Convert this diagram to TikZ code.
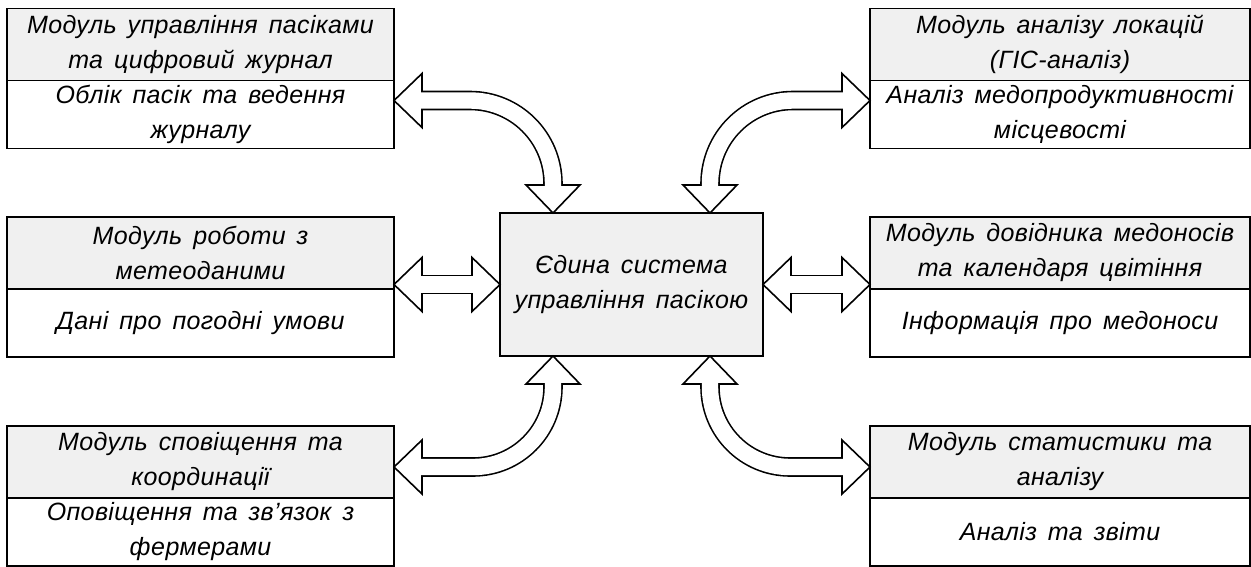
\documentclass[tikz,border=0pt]{standalone}
\usepackage{fontspec}
\setmainfont{Liberation Sans}[LetterSpace=1.5,WordSpace=1.5]
\usetikzlibrary{calc,positioning}
\definecolor{boxgray}{RGB}{240,240,240}

% hollow double-headed arrow: [shaft options]{tip A}{base A}{tip B}{base B}{path operation}
\newcommand{\hollowarrow}[6][]{%
    \draw[arrowhead] (#2) -- ($(#3)!27pt!90:(#2)$) -- ($(#3)!27pt!-90:(#2)$) -- cycle;
    \draw[arrowhead] (#4) -- ($(#5)!27pt!90:(#4)$) -- ($(#5)!27pt!-90:(#4)$) -- cycle;
    \draw[shaftout,#1] (#3) #6 (#5);
    \draw[shaftin,#1] (#3) #6 (#5);
}

\begin{document}
\begin{tikzpicture}[x=1pt,y=-1pt,line width=1.6pt,
    font=\fontsize{25}{35}\selectfont\itshape,
    modtop/.style={draw,fill=boxgray,minimum width=387pt,minimum height=72pt,
        inner sep=0pt,outer sep=0pt,align=center},
    modbot/.style={modtop,fill=white,minimum height=68pt},
    arrowhead/.style={draw,fill=white,line join=miter},
    shaftout/.style={line width=19.6pt},
    shaftin/.style={white,line width=16.4pt,shorten <=-2pt,shorten >=-2pt}]
    \useasboundingbox (0,0) rectangle (1251,566);

    %centre
    \node[modtop,minimum width=263pt,minimum height=143pt] (centre) at (631.5,284.5)
        {Єдина система\\управління пасікою};

    %left column
    \node[modtop] (left1) at (200.5,44.5) {Модуль управління пасіками\\та цифровий журнал};
    \node[modbot,below=0pt of left1] (left1info) {Облік пасік та ведення\\журналу};
    \node[modtop] (left2) at (200.5,253) {Модуль роботи з\\метеоданими};
    \node[modbot,below=0pt of left2] (left2info) {Дані про погодні умови};
    \node[modtop] (left3) at (200.5,462) {Модуль сповіщення та\\координації};
    \node[modbot,below=0pt of left3] (left3info) {Оповіщення та зв’язок з\\фермерами};

    %right column
    \node[modtop,minimum width=380pt] (right1) at (1060,44.5) {Модуль аналізу локацій\\(ГІС-аналіз)};
    \node[modbot,minimum width=380pt,below=0pt of right1] (right1info) {Аналіз медопродуктивності\\місцевості};
    \node[modtop,minimum width=380pt] (right2) at (1060,253) {Модуль довідника медоносів\\та календаря цвітіння};
    \node[modbot,minimum width=380pt,below=0pt of right2] (right2info) {Інформація про медоноси};
    \node[modtop,minimum width=380pt] (right3) at (1060,462) {Модуль статистики та\\аналізу};
    \node[modbot,minimum width=380pt,below=0pt of right3] (right3info) {Аналіз та звіти};

    %arrow tips and bases
    \coordinate (tl1) at ($(left1info.north east)+(0,20)$);
    \coordinate (tl2) at ($(centre.north west)+(53,0)$);
    \coordinate (ml1) at (centre.west -| left2.east);
    \coordinate (ml2) at (centre.west);
    \coordinate (bl1) at ($(left3.south east)+(0,-31)$);
    \coordinate (bl2) at ($(centre.south west)+(53,0)$);
    \coordinate (tr1) at ($(right1info.north west)+(0,20)$);
    \coordinate (tr2) at ($(centre.north east)+(-53,0)$);
    \coordinate (mr1) at (centre.east -| right2.west);
    \coordinate (mr2) at (centre.east);
    \coordinate (br1) at ($(right3.south west)+(0,-31)$);
    \coordinate (br2) at ($(centre.south east)+(-53,0)$);

    \coordinate (tl1b) at ($(tl1)+(28,0)$);
    \coordinate (tl2b) at ($(tl2)+(0,-28)$);
    \coordinate (ml1b) at ($(ml1)+(28,0)$);
    \coordinate (ml2b) at ($(ml2)+(-28,0)$);
    \coordinate (bl1b) at ($(bl1)+(28,0)$);
    \coordinate (bl2b) at ($(bl2)+(0,28)$);
    \coordinate (tr1b) at ($(tr1)+(-28,0)$);
    \coordinate (tr2b) at ($(tr2)+(0,-28)$);
    \coordinate (mr1b) at ($(mr1)+(-28,0)$);
    \coordinate (mr2b) at ($(mr2)+(28,0)$);
    \coordinate (br1b) at ($(br1)+(-28,0)$);
    \coordinate (br2b) at ($(br2)+(0,28)$);

    %arrows
    \hollowarrow[rounded corners=83pt]{tl1}{tl1b}{tl2}{tl2b}{-|}
    \hollowarrow{ml1}{ml1b}{ml2}{ml2b}{--}
    \hollowarrow[rounded corners=80pt]{bl1}{bl1b}{bl2}{bl2b}{-|}
    \hollowarrow[rounded corners=83pt]{tr1}{tr1b}{tr2}{tr2b}{-|}
    \hollowarrow{mr1}{mr1b}{mr2}{mr2b}{--}
    \hollowarrow[rounded corners=80pt]{br1}{br1b}{br2}{br2b}{-|}
\end{tikzpicture}
\end{document}
